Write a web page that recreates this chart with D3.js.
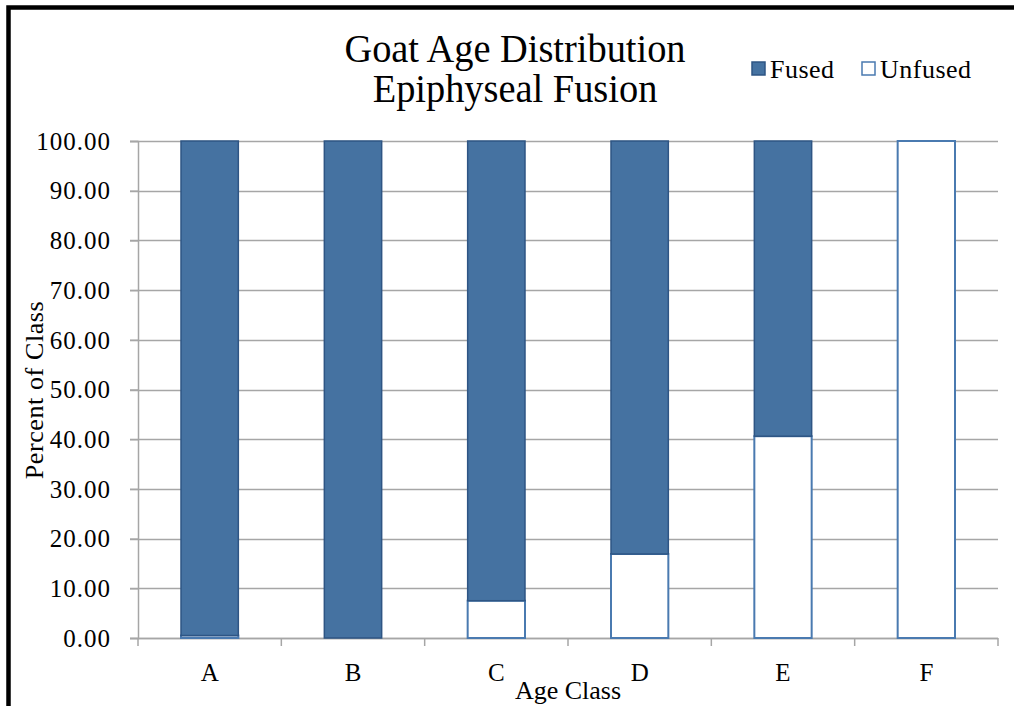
<!DOCTYPE html>
<html>
<head>
<meta charset="utf-8">
<script src="https://cdn.jsdelivr.net/npm/d3@7"></script>
<style>
  body { margin: 0; background: #fff; }
  svg text { font-family: "Liberation Serif", serif; fill: #000; }
</style>
</head>
<body>
<svg id="chart" width="1014" height="706"></svg>
<script>
// age classes and percentages
const classes = ["A", "B", "C", "D", "E", "F"];
const unfused = [0.5, 0, 7.5, 16.9, 40.6, 100];
const fused = [99.5, 100, 92.5, 83.1, 59.4, 0];
const yTicks = [0, 10, 20, 30, 40, 50, 60, 70, 80, 90, 100];

const svg = d3.select("#chart");
const margin = {left: 138, right: 16, top: 141, bottom: 68};
const W = 1014, H = 706;

// outer frame (only top + left visible)
svg.append("rect").attr("x", 8.5).attr("y", 7.5).attr("width", 1100).attr("height", 800)
  .attr("fill", "none").attr("stroke", "#000").attr("stroke-width", 4.5);

const x = d3.scaleBand().domain(classes)
  .range([margin.left, W - margin.right]).paddingInner(0.6).paddingOuter(0.3);
const xEdge = d3.scaleLinear().domain([0, classes.length]).range([margin.left, W - margin.right]);
const y = d3.scaleLinear().domain([0, 100]).range([H - margin.bottom, margin.top]);

// gridlines
svg.append("g").selectAll("line").data(yTicks).join("line")
  .attr("x1", margin.left - 8).attr("x2", W - margin.right)
  .attr("y1", d => Math.round(y(d)) + 0.5).attr("y2", d => Math.round(y(d)) + 0.5)
  .attr("stroke", "#a6a6a6").attr("stroke-width", 1.5);

// y axis
const yAxis = svg.append("g").attr("transform", `translate(${margin.left},0)`)
  .call(d3.axisLeft(y).tickValues(yTicks).tickFormat(d3.format(".2f")).tickSize(8).tickPadding(19));
yAxis.select(".domain").attr("stroke", "#a6a6a6").attr("stroke-width", 1.5);
yAxis.selectAll(".tick line").attr("stroke", "#a6a6a6").attr("stroke-width", 1.5);
yAxis.selectAll("text").style("font-size", "25px").attr("fill", "#000")
  .style("letter-spacing", "1px")
  .style("font-family", "'Liberation Serif', serif").attr("dy", "0.33em");

// x axis: ticks at category boundaries
const xg = svg.append("g");
xg.append("line").attr("x1", margin.left).attr("x2", W - margin.right)
  .attr("y1", y(0) + 0.5).attr("y2", y(0) + 0.5).attr("stroke", "#a6a6a6").attr("stroke-width", 1.5);
xg.selectAll(".xt").data(d3.range(classes.length + 1)).join("line")
  .attr("x1", d => xEdge(d)).attr("x2", d => xEdge(d))
  .attr("y1", y(0)).attr("y2", y(0) + 8).attr("stroke", "#a6a6a6").attr("stroke-width", 1.5);
xg.selectAll("text").data(classes).join("text")
  .attr("x", d => x(d) + x.bandwidth() / 2).attr("y", y(0) + 43)
  .attr("text-anchor", "middle").style("font-size", "25px").text(d => d);

// bars
const bars = svg.append("g");
bars.selectAll(".unf").data(classes).join("rect")
  .attr("x", d => x(d)).attr("width", x.bandwidth())
  .attr("y", (d, i) => y(unfused[i])).attr("height", (d, i) => y(0) - y(unfused[i]))
  .attr("fill", "#fff").attr("stroke", "#4a7ab0").attr("stroke-width", 2);
bars.selectAll(".fus").data(classes).join("rect")
  .attr("x", d => x(d)).attr("width", x.bandwidth())
  .attr("y", (d, i) => y(unfused[i] + fused[i])).attr("height", (d, i) => y(unfused[i]) - y(unfused[i] + fused[i]))
  .attr("fill", "#4572a1").attr("stroke", "#2e5584").attr("stroke-width", 1.5)
  .attr("display", (d, i) => fused[i] > 0 ? null : "none");

// title (condensed serif look)
const title = svg.append("g").attr("transform", "translate(515,0) scale(0.96,1)");
title.append("text").attr("x", 0).attr("y", 62).attr("text-anchor", "middle")
  .style("font-size", "40px").text("Goat Age Distribution");
title.append("text").attr("x", 0).attr("y", 102).attr("text-anchor", "middle")
  .style("font-size", "40px").text("Epiphyseal Fusion");

// legend
const legend = [
  {name: "Fused", fill: "#4572a1", stroke: "#2e5584", x: 752},
  {name: "Unfused", fill: "#fff", stroke: "#4a7ab0", x: 862}
];
const lg = svg.append("g").selectAll("g").data(legend).join("g")
  .attr("transform", d => `translate(${d.x},62)`);
lg.append("rect").attr("width", 13).attr("height", 13)
  .attr("fill", d => d.fill).attr("stroke", d => d.stroke).attr("stroke-width", 1.5);
lg.append("text").attr("x", 18).attr("y", 16).style("font-size", "26px")
  .style("letter-spacing", "0.5px").text(d => d.name);

// axis titles
svg.append("text").attr("x", 568).attr("y", 699).attr("text-anchor", "middle")
  .style("font-size", "26px").text("Age Class");
svg.append("text").attr("transform", "translate(43,390) rotate(-90)").attr("text-anchor", "middle")
  .style("font-size", "26px").style("letter-spacing", "0.6px").text("Percent of Class");
</script>
</body>
</html>
